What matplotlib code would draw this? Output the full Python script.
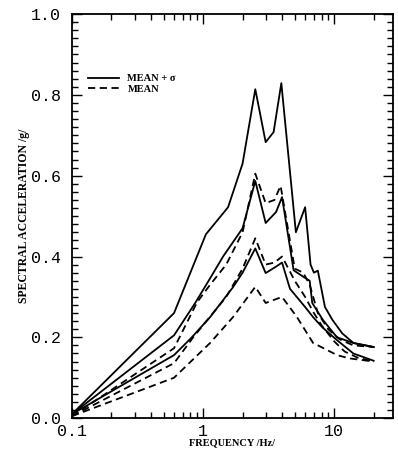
import matplotlib
matplotlib.use("Agg")
import matplotlib.pyplot as plt
from matplotlib.ticker import MultipleLocator, LogLocator, FixedLocator, FixedFormatter, NullFormatter

# mean + sigma curves (solid)
f_a = [0.1, 0.6, 1.05, 1.55, 2.0, 2.5, 3.0, 3.45, 3.95, 5.1, 6.0, 6.6, 7.0, 7.5, 8.5, 9.7, 11.5, 14, 20]
v_a = [0.01, 0.26, 0.455, 0.522, 0.63, 0.814, 0.683, 0.708, 0.829, 0.46, 0.522, 0.38, 0.36, 0.365, 0.275, 0.243, 0.21, 0.186, 0.176]

f_b = [0.1, 0.6, 0.87, 1.13, 1.42, 2.0, 2.5, 3.0, 3.6, 4.0, 4.9, 5.8, 6.5, 6.8, 8.2, 10.5, 14, 20]
v_b = [0.01, 0.205, 0.285, 0.346, 0.40, 0.47, 0.587, 0.483, 0.51, 0.547, 0.366, 0.35, 0.34, 0.285, 0.243, 0.2, 0.186, 0.176]

f_c = [0.1, 0.6, 0.82, 0.95, 1.13, 1.69, 2.0, 2.5, 3.0, 3.6, 4.0, 4.6, 6.0, 6.9, 8.1, 10.5, 14, 20]
v_c = [0.01, 0.156, 0.2, 0.223, 0.25, 0.324, 0.36, 0.42, 0.359, 0.375, 0.385, 0.32, 0.275, 0.25, 0.225, 0.193, 0.16, 0.142]

# mean curves (dashed)
f_d = [0.1, 0.6, 0.9, 1.13, 1.5, 2.0, 2.5, 3.0, 3.5, 3.9, 5.0, 5.8, 6.5, 7.5, 9, 11, 14, 20]
v_d = [0.005, 0.173, 0.287, 0.33, 0.38, 0.46, 0.605, 0.532, 0.54, 0.575, 0.37, 0.36, 0.33, 0.26, 0.22, 0.195, 0.18, 0.176]

f_e = [0.1, 0.6, 0.84, 1.5, 2.0, 2.5, 3.0, 3.5, 4.0, 5.0, 6.0, 7.0, 8.0, 10, 12, 15, 20]
v_e = [0.005, 0.136, 0.2, 0.3, 0.37, 0.445, 0.38, 0.385, 0.40, 0.34, 0.30, 0.26, 0.23, 0.19, 0.165, 0.15, 0.14]

f_f = [0.1, 0.6, 1.13, 1.69, 2.5, 3.0, 4.0, 5.2, 6.9, 8.3, 10.5, 13, 20]
v_f = [0.005, 0.10, 0.186, 0.25, 0.325, 0.285, 0.30, 0.25, 0.186, 0.173, 0.156, 0.148, 0.14]

x_ticks = [0.1, 1, 10]
x_labels = ["0.1", "1", "10"]

fig = plt.figure(figsize=(3.98, 4.54), dpi=100)
ax = fig.add_axes([0.181, 0.079, 0.806, 0.890])

ls_solid = dict(color="black", lw=1.3)
ls_dash = dict(color="black", lw=1.3, ls=(0, (4, 2.5)))

ax.plot(f_a, v_a, label="MEAN + σ", **ls_solid)
ax.plot(f_d, v_d, label="MEAN", **ls_dash)
ax.plot(f_b, v_b, **ls_solid)
ax.plot(f_c, v_c, **ls_solid)
ax.plot(f_e, v_e, **ls_dash)
ax.plot(f_f, v_f, **ls_dash)

ax.set_xscale("log")
ax.set_xlim(0.1, 28)
ax.set_ylim(0, 1.0)

ax.xaxis.set_major_locator(FixedLocator(x_ticks))
ax.xaxis.set_major_formatter(FixedFormatter(x_labels))
ax.xaxis.set_minor_locator(LogLocator(base=10, subs=range(2, 10)))
ax.xaxis.set_minor_formatter(NullFormatter())
ax.yaxis.set_major_locator(MultipleLocator(0.2))
ax.yaxis.set_minor_locator(MultipleLocator(0.02))
ax.yaxis.set_major_formatter(plt.FuncFormatter(lambda v, p: f"{v:.1f}"))

ax.tick_params(which="both", direction="in", top=True, right=True, width=1.0)
ax.tick_params(which="major", length=7, labelsize=12)
ax.tick_params(axis="y", which="major", pad=8)
ax.tick_params(axis="x", which="major", pad=4)
ax.tick_params(which="minor", length=4)
for t in ax.get_xticklabels() + ax.get_yticklabels():
    t.set_fontfamily("Liberation Mono")
for s in ax.spines.values():
    s.set_linewidth(1.3)

ax.set_xlabel("FREQUENCY /Hz/", fontdict=dict(family="Liberation Serif", weight="bold", size=7.5), labelpad=0)
ax.set_ylabel("SPECTRAL ACCELERATION /g/", fontdict=dict(family="Liberation Serif", weight="bold", size=8.5), labelpad=1)

ax.legend(loc="upper left", bbox_to_anchor=(0.02, 0.875), frameon=False,
          handlelength=3.0, handletextpad=0.8, labelspacing=0.15,
          prop=dict(family="Liberation Serif", weight="bold", size=7.5))

fig.savefig("out.png", dpi=100)
